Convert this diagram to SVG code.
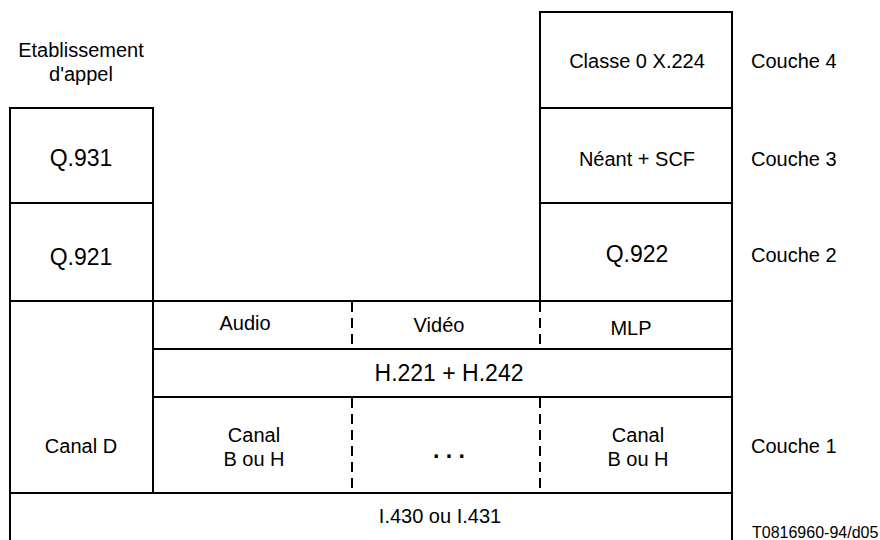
<svg xmlns="http://www.w3.org/2000/svg" width="880" height="540" viewBox="0 0 880 540">
<style>
.box{fill:none;stroke:#000;stroke-width:2;stroke-linecap:square}
.dash{fill:none;stroke:#000;stroke-width:2;stroke-dasharray:10 6}
.t{font-family:"Liberation Sans",Arial,sans-serif;font-size:20px;text-anchor:middle;fill:#000}
.l{font-family:"Liberation Sans",Arial,sans-serif;font-size:20px;fill:#000}
.big{font-size:23px}
</style>
<rect width="880" height="540" fill="#fff"/>
<g id="etablissement">
<text class="t" x="81" y="57">Etablissement</text>
<text class="t" x="81" y="81">d'appel</text>
</g>
<g id="q931">
<path class="box" d="M10,108 H153 V203 H10 Z"/>
<text class="t big" x="81" y="166">Q.931</text>
</g>
<g id="q921">
<path class="box" d="M10,203 H153 V301 H10 Z"/>
<text class="t big" x="81" y="265">Q.921</text>
</g>
<g id="canal-d">
<path class="box" d="M10,301 H153 V493 H10 Z"/>
<text class="t" x="81" y="453">Canal D</text>
</g>
<g id="classe0">
<path class="box" d="M540,12 H732 V108 H540 Z"/>
<text class="t" x="637" y="68">Classe 0 X.224</text>
</g>
<g id="neant">
<path class="box" d="M540,108 H732 V203 H540 Z"/>
<text class="t" x="637" y="166">Néant + SCF</text>
</g>
<g id="q922">
<path class="box" d="M540,203 H732 V301 H540 Z"/>
<text class="t big" x="637" y="262">Q.922</text>
</g>
<g id="audio">
<path class="box" d="M153,301 H352 M153,349 H352"/>
<text class="t" x="245" y="330">Audio</text>
</g>
<g id="video">
<path class="box" d="M352,301 H540 M352,349 H540"/>
<text class="t" x="439" y="332">Vidéo</text>
</g>
<g id="mlp">
<path class="box" d="M540,301 H732 V349 H540"/>
<text class="t" x="631" y="335">MLP</text>
</g>
<g id="h221">
<path class="box" d="M153,349 H732 V397 H153 Z"/>
<text class="t big" x="449" y="381">H.221 + H.242</text>
</g>
<g id="canal-bh-1">
<path class="box" d="M153,397 H352 M153,493 H352"/>
<text class="t" x="254" y="442">Canal</text>
<text class="t" x="254" y="466">B ou H</text>
</g>
<g id="canal-dots">
<path class="box" d="M352,397 H540 M352,493 H540"/>
<text class="t big" x="449" y="458" font-weight="bold">. . .</text>
</g>
<g id="canal-bh-2">
<path class="box" d="M540,397 H732 V493 H540"/>
<text class="t" x="638" y="442">Canal</text>
<text class="t" x="638" y="466">B ou H</text>
</g>
<g id="i430">
<path class="box" d="M10,493 H732 M10,493 V541 M732,493 V541"/>
<text class="t" x="440" y="523">I.430 ou I.431</text>
</g>
<g id="connectors">
<line class="dash" x1="352" y1="302" x2="352" y2="349"/>
<line class="dash" x1="540" y1="302" x2="540" y2="349"/>
<line class="dash" x1="352" y1="398" x2="352" y2="493"/>
<line class="dash" x1="540" y1="398" x2="540" y2="493"/>
</g>
<g id="couches">
<text class="l" x="751" y="68">Couche 4</text>
<text class="l" x="751" y="166">Couche 3</text>
<text class="l" x="751" y="262">Couche 2</text>
<text class="l" x="751" y="453">Couche 1</text>
</g>
<text class="l" x="752" y="538" style="font-size:16px">T0816960-94/d05</text>
</svg>
